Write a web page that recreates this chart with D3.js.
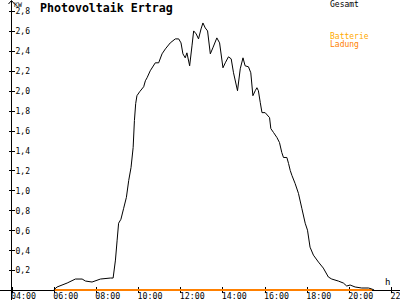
<!DOCTYPE html>
<html>
<head>
<meta charset="utf-8">
<script src="https://cdn.jsdelivr.net/npm/d3@7"></script>
<style>
  body { margin: 0; background: #fff; }
  svg { display: block; }
  text { font-family: "DejaVu Sans Mono", monospace; }
</style>
</head>
<body>
<div id="chart"></div>
<script>
// Photovoltaik Ertrag (kW), time in hours
var pvHours = [6.00, 6.16, 6.64, 7.03, 7.35, 7.51, 7.82, 8.22, 8.69, 8.82, 8.93, 9.01, 9.08, 9.19,
  9.32, 9.45, 9.56, 9.67, 9.77, 9.83, 9.89, 9.95, 10.08, 10.27, 10.35, 10.43, 10.58, 10.82, 10.98,
  11.14, 11.30, 11.53, 11.77, 11.93, 12.04, 12.13, 12.24, 12.32, 12.45, 12.56, 12.64, 12.76, 12.87,
  12.99, 13.08, 13.19, 13.30, 13.43, 13.55, 13.74, 13.87, 14.03, 14.14, 14.29, 14.42, 14.53, 14.72,
  14.85, 14.98, 15.08, 15.24, 15.35, 15.45, 15.56, 15.64, 15.71, 15.80, 15.88, 16.03, 16.24, 16.30,
  16.43, 16.59, 16.71, 16.82, 16.90, 17.06, 17.14, 17.22, 17.30, 17.45, 17.61, 17.77, 17.93, 18.04,
  18.16, 18.32, 18.56, 18.79, 19.03, 19.19, 19.50, 19.74, 19.90, 20.06, 20.30, 20.61, 20.93, 21.09, 21.20];
var pvValues = [0, 0.03, 0.07, 0.11, 0.11, 0.09, 0.08, 0.11, 0.12, 0.12, 0.30, 0.50, 0.67, 0.71,
  0.82, 0.93, 1.10, 1.23, 1.43, 1.70, 1.87, 1.95, 1.99, 2.04, 2.10, 2.13, 2.20, 2.28, 2.28,
  2.37, 2.42, 2.48, 2.52, 2.52, 2.48, 2.37, 2.33, 2.38, 2.25, 2.45, 2.60, 2.57, 2.52,
  2.62, 2.68, 2.63, 2.60, 2.37, 2.43, 2.53, 2.48, 2.23, 2.28, 2.34, 2.32, 2.18, 2.00,
  2.22, 2.33, 2.25, 2.24, 2.18, 1.95, 2.00, 2.03, 2.00, 1.88, 1.78, 1.78, 1.73, 1.62,
  1.58, 1.53, 1.48, 1.38, 1.33, 1.33, 1.27, 1.20, 1.15, 1.07, 0.97, 0.82, 0.67, 0.60,
  0.43, 0.35, 0.28, 0.22, 0.13, 0.11, 0.09, 0.07, 0.04, 0.05, 0.03, 0.02, 0.02, 0.01, 0];

// Batterie Ladung (kW)
var battHours = [6.05, 21.1];
var battValues = [0, 0];

var xTicks = [4, 6, 8, 10, 12, 14, 16, 18, 20, 22];
var xTickLabels = ["04:00", "06:00", "08:00", "10:00", "12:00", "14:00", "16:00", "18:00", "20:00", "22:00"];
var yTicks = [0.2, 0.4, 0.6, 0.8, 1.0, 1.2, 1.4, 1.6, 1.8, 2.0, 2.2, 2.4, 2.6, 2.8];
var yTickLabels = ["0,2", "0,4", "0,6", "0,8", "1,0", "1,2", "1,4", "1,6", "1,8", "2,0", "2,2", "2,4", "2,6", "2,8"];

var svgWidth = 400;
var svgHeight = 300;
var axisX = 11.5;
var axisY = 290;

var svg = d3.select("#chart")
    .append("svg")
    .attr("width", svgWidth)
    .attr("height", svgHeight);

var xScale = d3.scaleLinear()
    .domain([4, 22])
    .range([axisX, 391]);

var yScale = d3.scaleLinear()
    .domain([0, 2.8])
    .range([axisY, 11]);

// y axis ticks cross the axis line, labels on the right
var leftAxis = d3.axisRight(yScale)
    .tickValues(yTicks)
    .tickFormat((d, i) => yTickLabels[i])
    .tickSize(6)
    .tickPadding(1);

var yG = svg.append("g")
    .attr("transform", `translate(${axisX - 3},0)`)
    .call(leftAxis);
yG.select(".domain").remove();
yG.selectAll("line").attr("stroke", "#000").attr("shape-rendering", "crispEdges");
yG.selectAll("text")
    .attr("font-family", "DejaVu Sans Mono")
    .attr("font-size", "8px")
    .attr("fill", "#000")
    .attr("dy", "0.36em");

var bottomAxis = d3.axisBottom(xScale)
    .tickValues(xTicks)
    .tickFormat((d, i) => xTickLabels[i])
    .tickSize(6)
    .tickPadding(0);

var xG = svg.append("g")
    .attr("transform", `translate(0,${axisY - 3})`)
    .call(bottomAxis);
xG.select(".domain").remove();
xG.selectAll("line").attr("stroke", "#000").attr("shape-rendering", "crispEdges");
xG.selectAll("text")
    .attr("font-family", "DejaVu Sans Mono")
    .attr("font-size", "8.3px")
    .attr("fill", "#000")
    .attr("text-anchor", "start")
    .attr("x", -1);

// axis lines
svg.append("line")
    .attr("x1", axisX).attr("x2", axisX)
    .attr("y1", 1).attr("y2", 300)
    .attr("stroke", "#000")
    .attr("shape-rendering", "crispEdges");

svg.append("line")
    .attr("x1", 0).attr("x2", 400)
    .attr("y1", axisY).attr("y2", axisY)
    .attr("stroke", "#000")
    .attr("shape-rendering", "crispEdges");

// arrow on top of y axis
svg.append("path")
    .attr("d", `M${axisX - 3},4 L${axisX},0.5 L${axisX + 3},4`)
    .attr("fill", "none")
    .attr("stroke", "#000");

svg.append("text")
    .attr("x", 14)
    .attr("y", 6.5)
    .attr("font-size", "6.5px")
    .text("KW");

svg.append("text")
    .attr("x", 385)
    .attr("y", 285)
    .attr("font-size", "9px")
    .text("h");

// battery line
var battLine = d3.line()
    .x((d, i) => xScale(battHours[i]))
    .y(d => yScale(d));

svg.append("path")
    .datum(battValues)
    .attr("d", battLine)
    .attr("fill", "none")
    .attr("stroke", "#ff8000")
    .attr("stroke-width", 2);

// pv line
var pvLine = d3.line()
    .x((d, i) => xScale(pvHours[i]))
    .y(d => yScale(d));

svg.append("path")
    .datum(pvValues)
    .attr("d", pvLine)
    .attr("fill", "none")
    .attr("stroke", "#000")
    .attr("stroke-width", 1);

// title and legend
svg.append("text")
    .attr("x", 40)
    .attr("y", 11.5)
    .attr("font-size", "11.6px")
    .attr("font-weight", "bold")
    .text("Photovoltaik Ertrag");

svg.append("text")
    .attr("x", 330)
    .attr("y", 7)
    .attr("font-size", "8px")
    .attr("fill", "#000")
    .text("Gesamt");

svg.append("text")
    .attr("x", 330)
    .attr("y", 38.5)
    .attr("font-size", "8px")
    .attr("fill", "#ffaa00")
    .text("Batterie");

svg.append("text")
    .attr("x", 330)
    .attr("y", 47)
    .attr("font-size", "8px")
    .attr("fill", "#ff8000")
    .text("Ladung");
</script>
</body>
</html>
